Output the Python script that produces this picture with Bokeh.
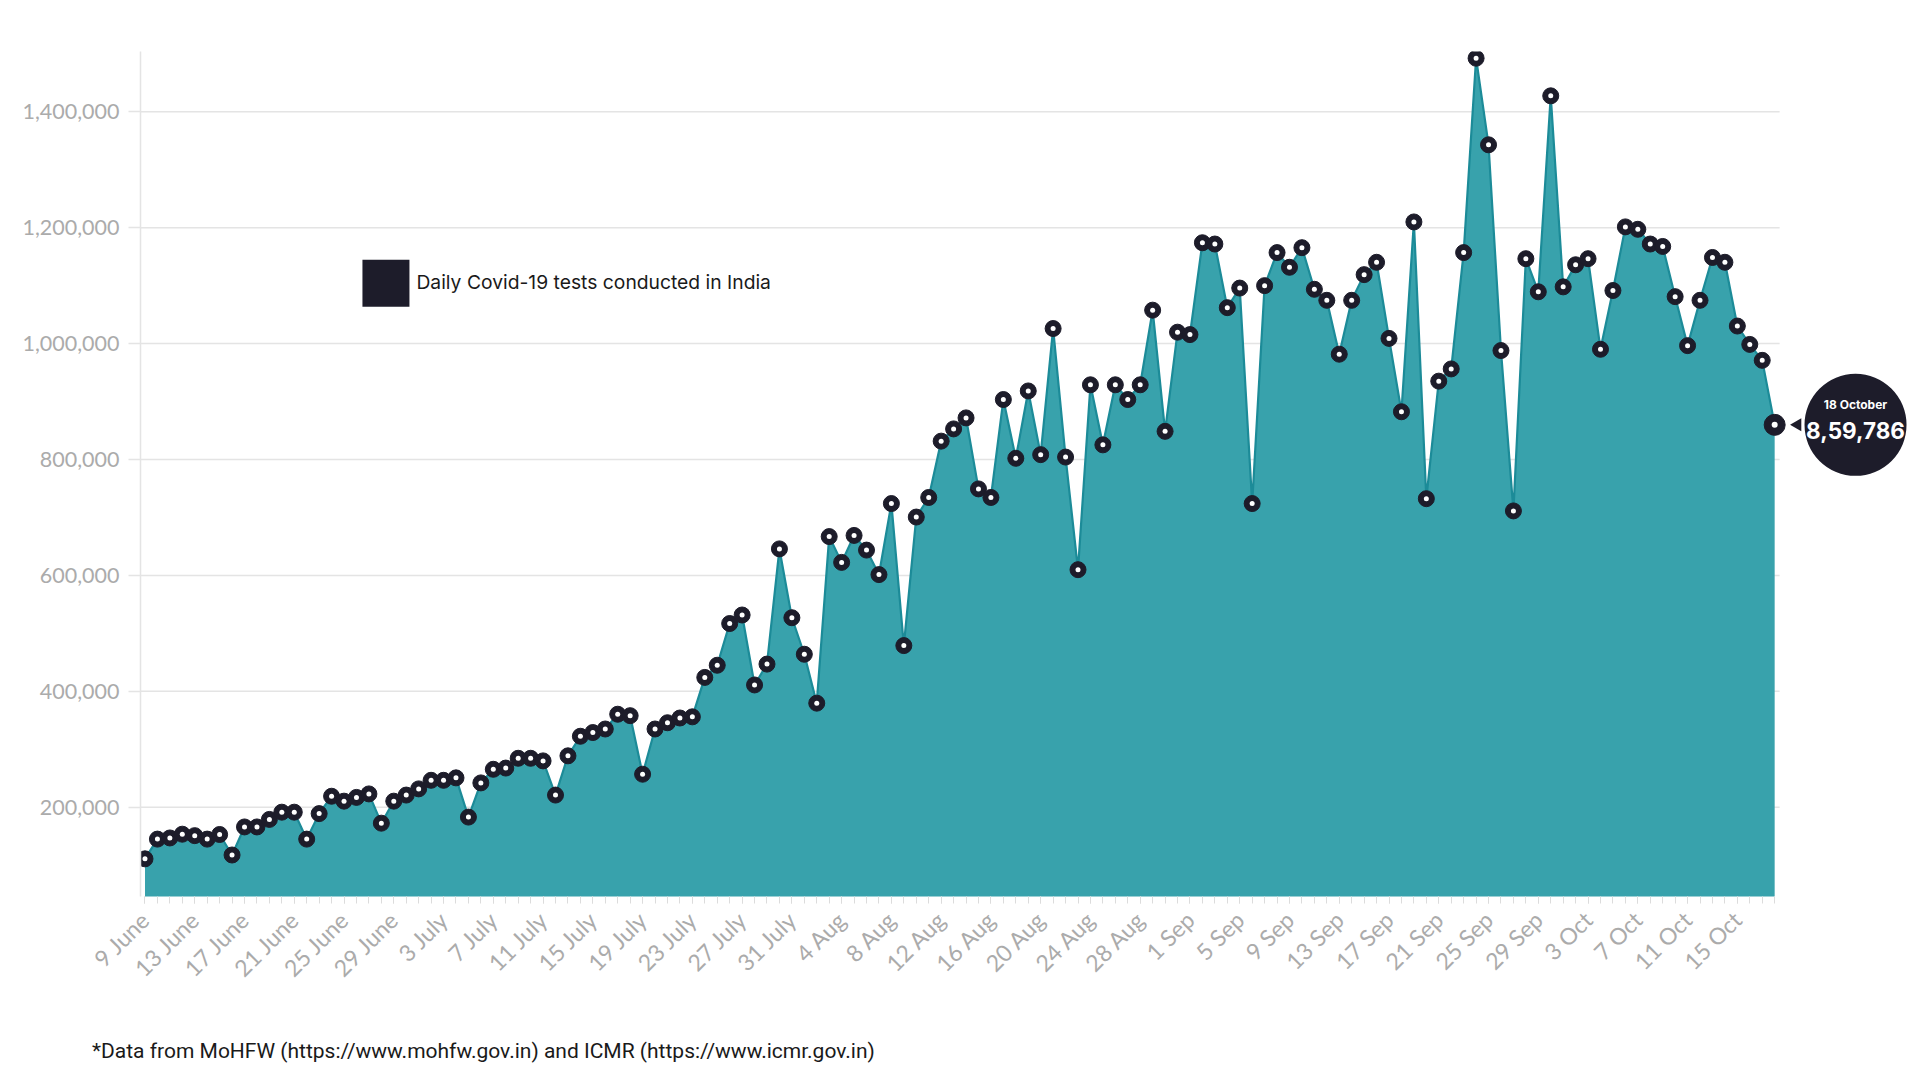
import numpy as np
from bokeh.plotting import figure
from bokeh.models import (FixedTicker, NumeralTickFormatter, Label, Range1d,
                          ColumnDataSource, Div)
from bokeh.layouts import column
from bokeh.embed import file_html
from bokeh.resources import INLINE

# ---------------- data ----------------
june = [111000, 145000, 147000, 153500, 151000, 145000, 153000, 117600, 166000, 166000,
        179000, 191500, 191500, 145000, 189000, 219000, 210500, 217000, 223000, 172500,
        210500, 221000]
july = [231700, 246500, 246500, 250700, 183000, 242000, 265500, 267600, 284500, 284500,
        280000, 221000, 288700, 322500, 328900, 335000, 360500, 358000, 257000, 335000,
        345800, 354000, 356000, 424000, 445000, 517000, 531700, 411000, 447000, 645800,
        527000]
aug = [464000, 379600, 667000, 622500, 669000, 643700, 601400, 724000, 478900, 700700,
       734500, 831700, 852800, 871800, 749300, 734500, 903500, 802100, 918300, 808400,
       1026000, 804200, 609900, 928900, 825300, 928900, 903500, 928900, 1057700, 848600,
       1019700]
sep = [1015500, 1174000, 1171800, 1062000, 1095800, 724000, 1100000, 1157000, 1131700,
       1165500, 1093700, 1074700, 981700, 1074700, 1119000, 1140300, 1009000, 882400,
       1209900, 732400, 935200, 956300, 1157000, 1492409, 1343000, 988000, 711300,
       1146500, 1089400, 1427500]
octo = [1097900, 1136000, 1146500, 990200, 1091600, 1201400, 1197200, 1171800, 1167600,
        1081000, 996500, 1074700, 1148600, 1140300, 1030300, 998600, 971100, 859786]

tests = june + july + aug + sep + octo
day_index = list(range(len(tests)))

tick_labels = ["9 June", "13 June", "17 June", "21 June", "25 June", "29 June",
               "3 July", "7 July", "11 July", "15 July", "19 July", "23 July",
               "27 July", "31 July", "4 Aug", "8 Aug", "12 Aug", "16 Aug", "20 Aug",
               "24 Aug", "28 Aug", "1 Sep", "5 Sep", "9 Sep", "13 Sep", "17 Sep",
               "21 Sep", "25 Sep", "29 Sep", "3 Oct", "7 Oct", "11 Oct", "15 Oct"]
tick_pos = list(range(0, len(tests), 4))[:len(tick_labels)]
y_ticks = [200000, 400000, 600000, 800000, 1000000, 1200000, 1400000]

series_name = "Daily Covid-19 tests conducted in India"
last_date = "18 October"
last_value_text = "8,59,786"
footer = "*Data from MoHFW (https://www.mohfw.gov.in) and ICMR (https://www.icmr.gov.in)"

# ---------------- styling ----------------
TEAL = "#38a2ac"
TEAL_LINE = "#1c8b98"
NAVY = "#1d1c2a"
GRID = "#e4e4e4"
TICK_TXT = "#ababab"

X0, X1 = -0.36, 142.08
Y0, Y1 = 46000, 1504000
GRID_END = 131.4

p = figure(width=1912, height=1000, output_backend="svg", toolbar_location=None,
           x_range=Range1d(X0, X1), y_range=Range1d(Y0, Y1),
           min_border_left=140, min_border_right=0, min_border_top=51,
           min_border_bottom=104)
p.outline_line_color = None
p.xgrid.visible = False
p.ygrid.visible = False
p.background_fill_color = "white"

# horizontal grid lines (stop at end of data)
p.segment(x0=[X0] * len(y_ticks), x1=[GRID_END] * len(y_ticks), y0=y_ticks, y1=y_ticks,
          line_color=GRID, line_width=1.5)

src = ColumnDataSource(dict(x=day_index, y=tests))
p.varea(x="x", y1=0, y2="y", source=src, fill_color=TEAL)
p.line(x="x", y="y", source=src, line_color=TEAL_LINE, line_width=2.2)

p.scatter(x="x", y="y", source=src, size=16, fill_color=NAVY, line_color=NAVY)
p.scatter(x="x", y="y", source=src, size=5, fill_color="white", line_color=None)

# last point emphasised
last_x, last_y = day_index[-1], tests[-1]
p.scatter(x=[last_x], y=[last_y], size=21, fill_color=NAVY, line_color=NAVY)
p.scatter(x=[last_x], y=[last_y], size=6, fill_color="white", line_color=None)

# callout bubble
p.scatter(x=[137.5], y=[last_y], size=102, fill_color=NAVY, line_color=None)
p.scatter(x=[132.84], y=[last_y], marker="triangle", angle=np.pi / 2, size=13,
          fill_color=NAVY, line_color=None)
p.add_layout(Label(x=137.5, y=last_y, y_offset=20, text=last_date, text_color="white",
                   text_font="Inter", text_font_size="12px", text_font_style="bold",
                   text_align="center", text_baseline="middle"))
p.add_layout(Label(x=137.5, y=last_y, y_offset=-6, text=last_value_text, text_color="white",
                   text_font="Inter", text_font_size="22.5px", text_font_style="bold",
                   text_align="center", text_baseline="middle"))

# legend (drawn by hand)
LEG_X, LEG_Y = 19.37, 1104200
p.scatter(x=[LEG_X], y=[LEG_Y], marker="square", size=47, fill_color=NAVY, line_color=None)
p.add_layout(Label(x=LEG_X, y=LEG_Y, x_offset=30.5, y_offset=1, text=series_name,
                   text_font="Inter", text_font_size="19.3px", text_color="#1a1a1a",
                   text_baseline="middle"))

# axes
p.yaxis.ticker = FixedTicker(ticks=y_ticks)
p.yaxis.formatter = NumeralTickFormatter(format="0,0")
p.yaxis.axis_line_color = GRID
p.yaxis.axis_line_width = 1.5
p.yaxis.major_tick_line_color = GRID
p.yaxis.major_tick_line_width = 1.5
p.yaxis.major_tick_out = 12
p.yaxis.major_tick_in = 0
p.yaxis.minor_tick_line_color = None
p.yaxis.major_label_standoff = 9
p.yaxis.major_label_text_color = TICK_TXT
p.yaxis.major_label_text_font = "Lato"
p.yaxis.major_label_text_font_size = "21.5px"

p.xaxis.ticker = FixedTicker(ticks=tick_pos, minor_ticks=day_index)
p.xaxis.major_label_overrides = {t: lab for t, lab in zip(tick_pos, tick_labels)}
p.xaxis.axis_line_color = None
p.xaxis.major_tick_line_color = "#dcdcdc"
p.xaxis.minor_tick_line_color = "#dcdcdc"
p.xaxis.major_tick_out = 7
p.xaxis.major_tick_in = 0
p.xaxis.minor_tick_out = 7
p.xaxis.minor_tick_in = 0
p.xaxis.major_label_orientation = np.pi / 4
p.xaxis.major_label_standoff = 12
p.xaxis.major_label_text_color = TICK_TXT
p.xaxis.major_label_text_font = "Lato"
p.xaxis.major_label_text_font_size = "23px"

note = Div(text=footer, width=1100, margin=(39, 0, 0, 92),
           styles={"font-family": "Roboto", "font-size": "21px", "color": "#1a1a1a",
                   "line-height": "24px", "white-space": "nowrap"})

layout = column(p, note, spacing=0)
open("out.html", "w").write(file_html(layout, INLINE))
